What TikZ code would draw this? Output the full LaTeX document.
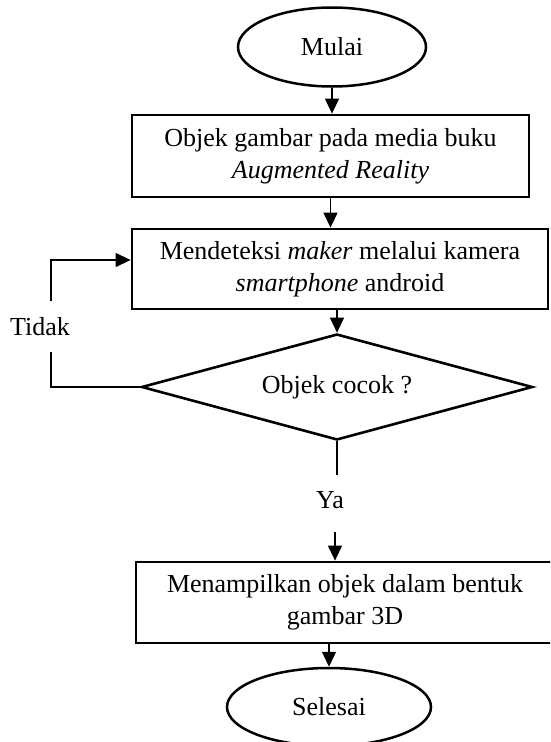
\documentclass[tikz,border=0pt]{standalone}
\usepackage{fontspec}
\setmainfont{Liberation Serif}
\usetikzlibrary{shapes.geometric,arrows.meta}
\begin{document}
\begin{tikzpicture}[x=1pt,y=-1pt,
  every node/.style={font=\fontsize{26}{32}\selectfont, inner sep=0pt},
  term/.style={ellipse, draw, line width=2.5pt},
  proc/.style={rectangle, draw, line width=2.8pt, align=center},
  dec/.style={diamond, draw, line width=2.6pt, aspect=3.69},
  arr/.style={line width=1.3pt, -{Triangle[length=15pt,width=14pt]}},
  conn/.style={line width=1.3pt}]
\useasboundingbox (0,0) rectangle (550,742);
\clip (0,0) rectangle (550,742);

\node[term, minimum width=188pt, minimum height=79pt] (mulai) at (332,47) {Mulai};
\node[proc, minimum width=397pt, minimum height=82pt] (box1) at (330.5,156)
  {Objek gambar pada media buku\\\textit{Augmented Reality}};
\node[proc, minimum width=416pt, minimum height=80pt] (box2) at (340,269)
  {Mendeteksi \textit{maker} melalui kamera\\\textit{smartphone} android};
\node[dec, minimum width=391pt, minimum height=106pt] (dia) at (337,387) {Objek cocok ?};
\node (tidak) at (40,327) {Tidak};
\node (ya) at (330,500) {Ya};
\node[proc, minimum width=418pt, minimum height=81pt] (box3) at (345,602.5)
  {Menampilkan objek dalam bentuk\\gambar 3D};
\node[term, minimum width=204pt, minimum height=78pt] (sel) at (329,707) {Selesai};

\coordinate (t1) at (51,352);
\coordinate (t2) at (51,301);
\coordinate (y1) at (337,475);
\coordinate (y2) at (335,532);

\draw[arr] (mulai.south) -- (mulai.south |- box1.north);
\draw[arr] (box1.south) -- (box1.south |- box2.north);
\draw[arr] (dia.north |- box2.south) -- (dia.north);
\draw[conn] (dia.west) -| (t1);
\draw[arr] (t2) |- ([yshift=9pt]box2.west);
\draw[conn] (dia.south) -- (dia.south |- y1);
\draw[arr] (y2) -- (y2 |- box3.north);
\draw[arr] (sel.north |- box3.south) -- (sel.north);
\end{tikzpicture}
\end{document}
